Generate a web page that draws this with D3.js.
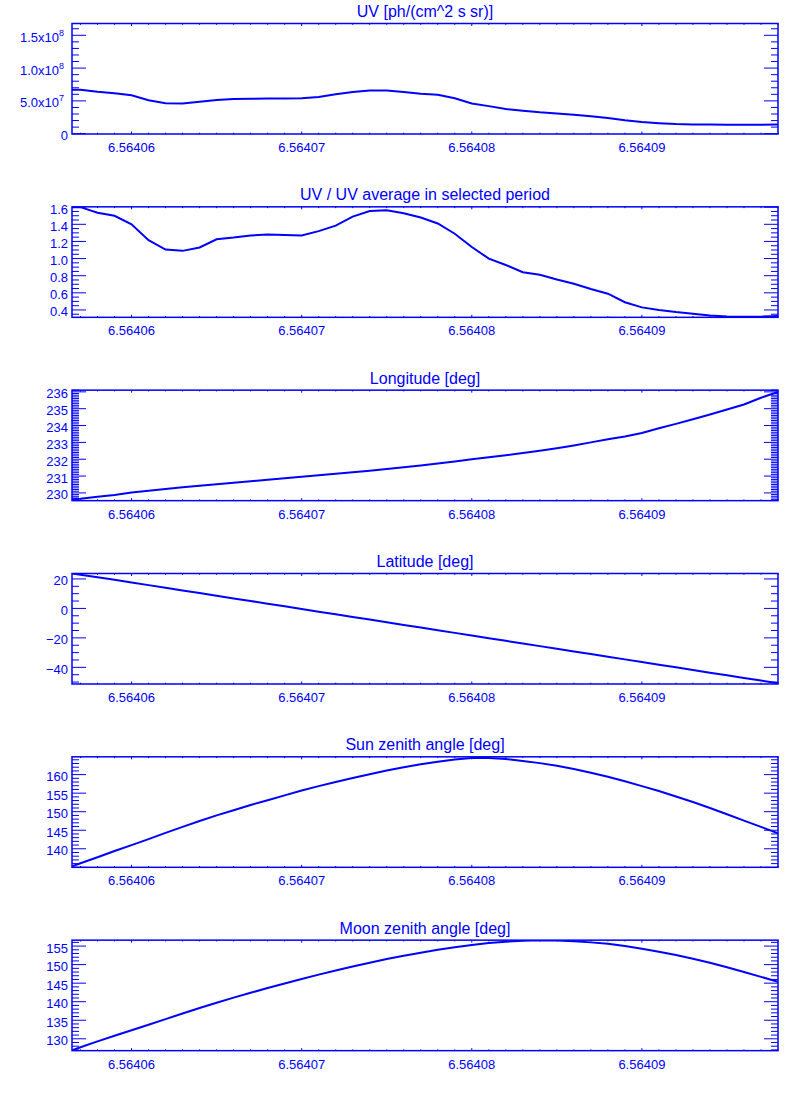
<!DOCTYPE html>
<html>
<head>
<meta charset="utf-8">
<script src="https://cdn.jsdelivr.net/npm/d3@7"></script>
<style>
  body { margin: 0; background: #fff; }
  text { font-family: "Liberation Sans", Arial, sans-serif; fill: #0000ff; }
</style>
</head>
<body>
<div id="chart"></div>
<script>
// sample times (shared by every panel)
var times = [6.5640565, 6.564057, 6.564058, 6.564059, 6.56406, 6.564061, 6.564062, 6.564063,
  6.564064, 6.564065, 6.564066, 6.564067, 6.564068, 6.564069, 6.56407, 6.564071, 6.564072,
  6.564073, 6.564074, 6.564075, 6.564076, 6.564077, 6.564078, 6.564079, 6.56408, 6.564081,
  6.564082, 6.564083, 6.564084, 6.564085, 6.564086, 6.564087, 6.564088, 6.564089, 6.56409,
  6.564091, 6.564092, 6.564093, 6.564094, 6.564095, 6.564096, 6.564097, 6.564098];

var uvValues = [6.68e7, 6.68e7, 6.38e7, 6.15e7, 5.85e7, 5.1e7, 4.65e7, 4.59e7, 4.85e7, 5.15e7,
  5.3e7, 5.32e7, 5.35e7, 5.35e7, 5.4e7, 5.6e7, 6.0e7, 6.35e7, 6.57e7, 6.6e7, 6.35e7, 6.1e7,
  5.92e7, 5.4e7, 4.6e7, 4.2e7, 3.76e7, 3.5e7, 3.25e7, 3.08e7, 2.9e7, 2.65e7, 2.4e7, 2.03e7,
  1.77e7, 1.6e7, 1.47e7, 1.4e7, 1.38e7, 1.37e7, 1.37e7, 1.37e7, 1.38e7];

var uvRatio = [1.60, 1.60, 1.535, 1.50, 1.40, 1.215, 1.105, 1.09, 1.13, 1.225, 1.245, 1.27,
  1.28, 1.275, 1.27, 1.32, 1.385, 1.49, 1.555, 1.565, 1.53, 1.48, 1.41, 1.29, 1.135, 1.00,
  0.925, 0.84, 0.81, 0.755, 0.705, 0.645, 0.59, 0.49, 0.43, 0.40, 0.375, 0.357, 0.335, 0.325,
  0.322, 0.322, 0.33];

var longitude = [229.62, 229.66, 229.77, 229.88, 230.02, 230.13, 230.23, 230.33, 230.42,
  230.51, 230.6, 230.69, 230.78, 230.87, 230.96, 231.05, 231.14, 231.23, 231.32, 231.42,
  231.52, 231.63, 231.75, 231.87, 232.0, 232.12, 232.24, 232.37, 232.5, 232.65, 232.82,
  233.0, 233.18, 233.35, 233.56, 233.84, 234.1, 234.37, 234.66, 234.95, 235.25, 235.65, 236.0];

var latitude = [23.7, 22.8, 21.1, 19.4, 17.6, 15.8, 14.0, 12.2, 10.4, 8.6, 6.8, 5.0, 3.2, 1.4,
  -0.4, -2.2, -4.0, -5.8, -7.6, -9.4, -11.2, -13.0, -14.8, -16.6, -18.4, -20.2, -22.0, -23.8,
  -25.6, -27.4, -29.2, -31.0, -32.8, -34.6, -36.4, -38.2, -40.0, -41.8, -43.6, -45.4, -47.2,
  -49.0, -50.8];

var sunZenith = [135.3, 136.1, 137.7, 139.4, 141.0, 142.6, 144.3, 145.9, 147.5, 149.0, 150.4,
  151.8, 153.1, 154.4, 155.7, 156.9, 158.0, 159.1, 160.1, 161.1, 162.0, 162.8, 163.5, 164.1,
  164.5, 164.5, 164.2, 163.7, 163.1, 162.4, 161.5, 160.5, 159.4, 158.2, 156.9, 155.6, 154.1,
  152.6, 151.0, 149.3, 147.6, 145.9, 144.2];

var moonZenith = [126.9, 127.7, 129.3, 130.8, 132.3, 133.8, 135.3, 136.8, 138.3, 139.7, 141.1,
  142.4, 143.7, 144.9, 146.1, 147.3, 148.4, 149.5, 150.5, 151.5, 152.4, 153.2, 154.0, 154.7,
  155.3, 155.8, 156.2, 156.45, 156.55, 156.5, 156.3, 156.0, 155.6, 155.0, 154.3, 153.5, 152.6,
  151.6, 150.5, 149.3, 148.0, 146.7, 145.4];

// axis ticks
var xTicks = [6.56406, 6.56407, 6.56408, 6.56409];
var xTickLabels = ["6.56406", "6.56407", "6.56408", "6.56409"];

var uvTicks = [0, 5e7, 1e8, 1.5e8];
var uvTickBase = ["0", "5.0x10", "1.0x10", "1.5x10"];
var uvTickExp = ["", "7", "8", "8"];
var ratioTicks = [0.4, 0.6, 0.8, 1.0, 1.2, 1.4, 1.6];
var ratioTickLabels = ["0.4", "0.6", "0.8", "1.0", "1.2", "1.4", "1.6"];
var lonTicks = [230, 231, 232, 233, 234, 235, 236];
var lonTickLabels = ["230", "231", "232", "233", "234", "235", "236"];
var latTicks = [-40, -20, 0, 20];
var latTickLabels = ["\u221240", "\u221220", "0", "20"];
var sunTicks = [140, 145, 150, 155, 160];
var sunTickLabels = ["140", "145", "150", "155", "160"];
var moonTicks = [130, 135, 140, 145, 150, 155];
var moonTickLabels = ["130", "135", "140", "145", "150", "155"];

var titles = ["UV [ph/(cm^2 s sr)]", "UV / UV average in selected period", "Longitude [deg]",
  "Latitude [deg]", "Sun zenith angle [deg]", "Moon zenith angle [deg]"];

var blue = "#0000ff";
var svgWidth = 800, svgHeight = 1100;
var left = 72, right = 778, plotHeight = 110.5;

var panels = [
  {values: uvValues, domain: [-0.5e6, 1.68e8], ticks: uvTicks, labels: uvTickBase, exps: uvTickExp, minor: 5},
  {values: uvRatio, domain: [0.314, 1.604], ticks: ratioTicks, labels: ratioTickLabels, minor: 4},
  {values: longitude, domain: [229.54, 236.1], ticks: lonTicks, labels: lonTickLabels, minor: 10},
  {values: latitude, domain: [-51.3, 23.7], ticks: latTicks, labels: latTickLabels, minor: 4},
  {values: sunZenith, domain: [135.0, 164.8], ticks: sunTicks, labels: sunTickLabels, minor: 5},
  {values: moonZenith, domain: [126.8, 156.6], ticks: moonTicks, labels: moonTickLabels, minor: 5}
];

var svg = d3.select("#chart").append("svg")
  .attr("width", svgWidth)
  .attr("height", svgHeight);

var xScale = d3.scaleLinear()
  .domain([6.5640565, 6.564098])
  .range([left, right]);

// x minor ticks every 1e-6
var xMinor = d3.range(6564056, 6564099).map(d => d / 1e6)
  .filter(d => d >= xScale.domain()[0] && d <= xScale.domain()[1]);

panels.forEach(function(p, i) {
  var top = 23.5 + i * 183.33;
  var bottom = top + plotHeight;
  var g = svg.append("g");

  var yScale = d3.scaleLinear().domain(p.domain).range([bottom, top]);

  // clip for the data line
  g.append("clipPath").attr("id", "clip" + i)
    .append("rect")
    .attr("x", left).attr("y", top)
    .attr("width", right - left).attr("height", plotHeight);

  // frame
  g.append("rect")
    .attr("x", left).attr("y", top)
    .attr("width", right - left).attr("height", plotHeight)
    .style("fill", "none")
    .style("stroke", blue)
    .style("stroke-width", 1.5);

  // x ticks, bottom and top
  xMinor.forEach(function(t) {
    var major = xTicks.some(m => Math.abs(m - t) < 1e-9);
    var len = major ? 2.5 : 1.3;
    var xx = xScale(t);
    g.append("line").attr("x1", xx).attr("x2", xx)
      .attr("y1", bottom).attr("y2", bottom - len)
      .style("stroke", blue).style("stroke-width", 1);
    g.append("line").attr("x1", xx).attr("x2", xx)
      .attr("y1", top).attr("y2", top + len)
      .style("stroke", blue).style("stroke-width", 1);
  });

  xTicks.forEach(function(t, j) {
    g.append("text")
      .attr("x", xScale(t))
      .attr("y", bottom + 18)
      .attr("text-anchor", "middle")
      .style("font-size", "13px")
      .text(xTickLabels[j]);
  });

  // y ticks, left and right
  var step = p.ticks[1] - p.ticks[0];
  var mstep = step / p.minor;
  var y0 = p.ticks[0] - step;
  var nMinor = Math.round((p.ticks[p.ticks.length - 1] + step - y0) / mstep);
  for (var k = 0; k <= nMinor; k++) {
    var v = y0 + k * mstep;
    if (v < p.domain[0] || v > p.domain[1]) continue;
    var major = (k % p.minor) === 0;
    var len = major ? 14 : 7;
    var yy = yScale(v);
    g.append("line").attr("x1", left).attr("x2", left + len)
      .attr("y1", yy).attr("y2", yy)
      .style("stroke", blue).style("stroke-width", 1);
    g.append("line").attr("x1", right).attr("x2", right - len)
      .attr("y1", yy).attr("y2", yy)
      .style("stroke", blue).style("stroke-width", 1);
  }

  p.ticks.forEach(function(t, j) {
    var lab = g.append("text")
      .attr("x", 68)
      .attr("y", yScale(t) + 6.5)
      .attr("text-anchor", "end")
      .style("font-size", "13px");
    if (p.exps && p.exps[j]) {
      lab.attr("x", 64);
      lab.append("tspan").text(p.labels[j]);
      lab.append("tspan")
        .attr("dy", -6)
        .style("font-size", "9px")
        .text(p.exps[j]);
    } else {
      lab.text(p.labels[j]);
    }
  });

  // title
  g.append("text")
    .attr("x", (left + right) / 2)
    .attr("y", top - 6.5)
    .attr("text-anchor", "middle")
    .style("font-size", "16px")
    .text(titles[i]);

  // data line
  var line = d3.line()
    .x((d, j) => xScale(times[j]))
    .y(d => yScale(d));

  g.append("path")
    .datum(p.values)
    .attr("clip-path", "url(#clip" + i + ")")
    .attr("d", line)
    .style("fill", "none")
    .style("stroke", blue)
    .style("stroke-width", 2);
});
</script>
</body>
</html>
